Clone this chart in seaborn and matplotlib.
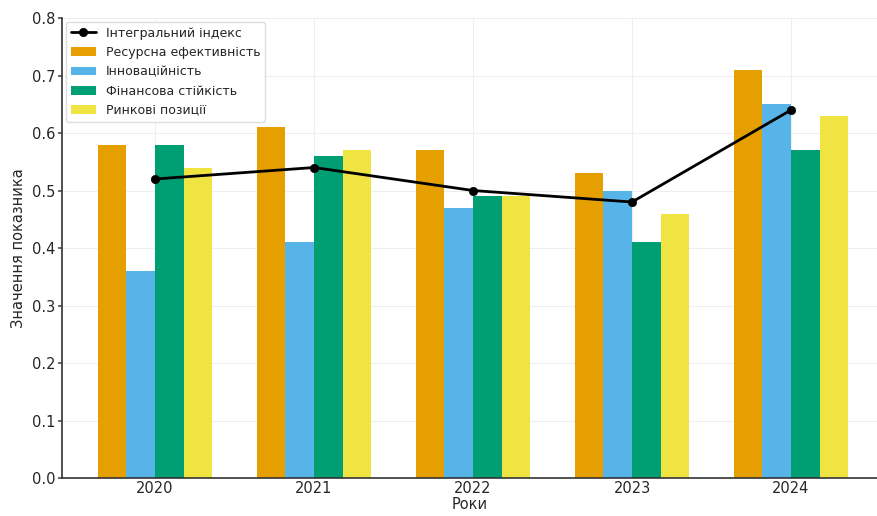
import matplotlib
matplotlib.use("Agg")
import matplotlib.pyplot as plt
import seaborn as sns
import pandas as pd

years = ["2020", "2021", "2022", "2023", "2024"]
resource_eff = [0.58, 0.61, 0.57, 0.53, 0.71]
innovation = [0.36, 0.41, 0.47, 0.50, 0.65]
fin_stability = [0.58, 0.56, 0.49, 0.41, 0.57]
market_pos = [0.54, 0.57, 0.49, 0.46, 0.63]
integral_index = [0.52, 0.54, 0.50, 0.48, 0.64]

series_names = ["Ресурсна ефективність", "Інноваційність", "Фінансова стійкість", "Ринкові позиції"]
colors = ["#E69F00", "#56B4E9", "#009E73", "#F0E442"]

sns.set_theme(style="whitegrid")
plt.rcParams["font.family"] = ["DejaVu Sans"]

rows = []
for name, vals in zip(series_names, [resource_eff, innovation, fin_stability, market_pos]):
    for y, v in zip(years, vals):
        rows.append({"Рік": y, "Показник": name, "Значення": v})
df = pd.DataFrame(rows)

fig = plt.figure(figsize=(8.78, 5.16), dpi=100)
ax = fig.add_axes([0.0706, 0.0736, 0.9294, 0.8915])

sns.barplot(data=df, x="Рік", y="Значення", hue="Показник", hue_order=series_names,
            palette=colors, width=0.72, saturation=1, ax=ax, errorbar=None, linewidth=0)

line_df = pd.DataFrame({"x": list(range(len(years))), "y": integral_index})
sns.lineplot(data=line_df, x="x", y="y", color="black", marker="o", markersize=6,
             markeredgecolor="black", markeredgewidth=0.5,
             linewidth=2, ax=ax, label="Інтегральний індекс", zorder=5)

ax.set_xlim(-0.585, 4.547)
ax.set_ylim(0, 0.8)
ax.set_xticks(range(len(years)))
ax.set_xticklabels(years)
ax.set_xlabel("Роки", fontsize=10.5, labelpad=1)
ax.set_ylabel("Значення показника", fontsize=10.5, labelpad=4)
ax.tick_params(axis="x", labelsize=10.5, length=0, pad=2)
ax.tick_params(axis="y", labelsize=10.5, length=3, color="#555555", left=True, pad=2)

ax.grid(True, color="#eeeeee", linewidth=0.8)
for side in ["top", "right"]:
    ax.spines[side].set_visible(False)
for side in ["left", "bottom"]:
    ax.spines[side].set_color("#333333")
    ax.spines[side].set_linewidth(1.2)

handles, labels = ax.get_legend_handles_labels()
order = [labels.index("Інтегральний індекс")] + [labels.index(n) for n in series_names]
ax.legend([handles[i] for i in order], [labels[i] for i in order], loc="upper left",
          fontsize=9, frameon=True, framealpha=1, edgecolor="#dddddd", title=None,
          borderaxespad=0.3)

fig.savefig("out.png", dpi=100)
